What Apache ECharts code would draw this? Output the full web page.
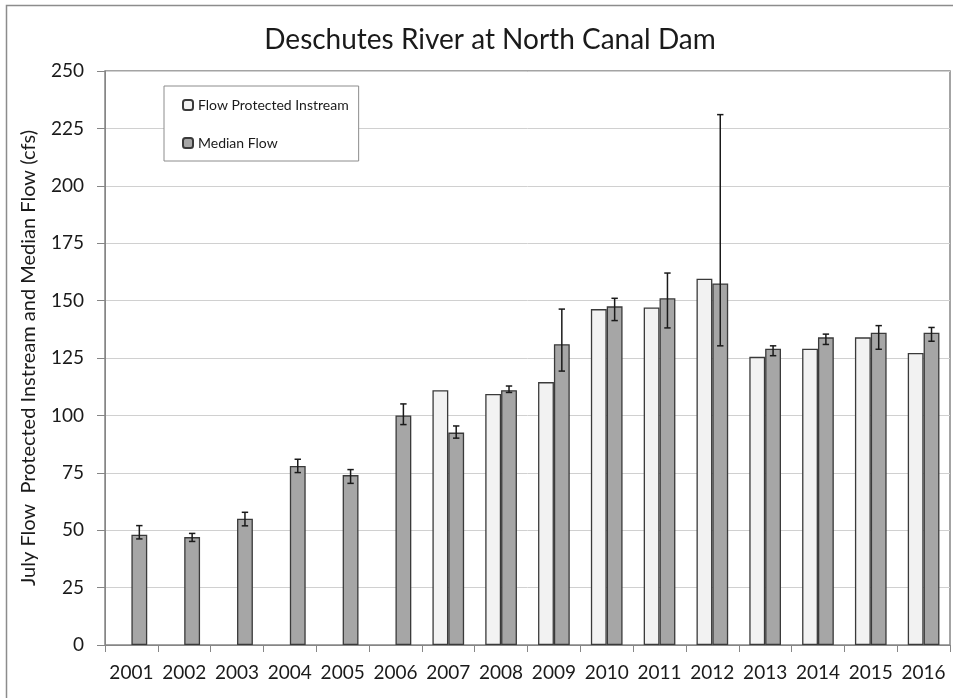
<!DOCTYPE html>
<html><head><meta charset="utf-8">
<script src="https://cdn.jsdelivr.net/npm/echarts@6/dist/echarts.min.js"></script>
<style>html,body{margin:0;padding:0;background:#fff}#c{width:953px;height:698px}</style>
</head><body><div id="c"></div>
<script>
const years = ['2001','2002','2003','2004','2005','2006','2007','2008','2009','2010','2011','2012','2013','2014','2015','2016'];
const protectedFlow = [null,null,null,null,null,null,111,109.3,114.5,146.3,147,159.5,125.5,129,134,127.2];
const medianFlow = [48,47,55,78,74,100,92.5,111,131,147.5,151,157.5,129,134,136,136];
const errLow = [46.2,45.1,51.9,75.1,70.4,96,90.1,110,119.3,141.3,138.1,130.3,126,130.9,128.8,132.3];
const errHigh = [52,48.6,57.8,80.9,76.4,105,95.4,112.8,146.3,151,162,231,130.3,135.4,139.1,138.3];
const yTicks = [0,25,50,75,100,125,150,175,200,225,250];

const FONT = 'Lato';
const chart = echarts.init(document.getElementById('c'));
const errData = years.map((y,i)=>[i, errLow[i], errHigh[i]]);
chart.setOption({
  animation:false,
  textStyle:{fontFamily:FONT},
  title:{text:'Deschutes River at North Canal Dam',left:485,textAlign:'center',top:21,
    textStyle:{fontFamily:FONT,fontSize:28,fontWeight:'normal',color:'#1a1a1a'}},
  graphic:[{type:'rect',shape:{x:6.5,y:5.5,width:960,height:720},style:{fill:null,stroke:'#8c8c8c',lineWidth:1.5},silent:true,z:-1}],
  legend:{orient:'vertical',left:164,top:86,itemWidth:10,itemHeight:10,itemGap:24,
    padding:[12,10,11,18],borderColor:'#8c8c8c',borderWidth:1,backgroundColor:'#fff',
    textStyle:{fontFamily:FONT,fontSize:14,color:'#1a1a1a'},
    data:['Flow Protected Instream','Median Flow']},
  grid:{left:105,right:3,top:71,bottom:53,show:true,borderColor:'#868686',borderWidth:1.5},
  xAxis:{type:'category',data:years,
    axisLine:{lineStyle:{color:'#868686',width:1}},
    axisTick:{show:true,length:7,lineStyle:{color:'#868686'}},
    axisLabel:{fontFamily:FONT,fontSize:19,color:'#1a1a1a',margin:18,interval:0,hideOverlap:false}},
  yAxis:{type:'value',min:0,max:250,interval:25,
    name:'July Flow  Protected Instream and Median Flow (cfs)',nameLocation:'middle',nameGap:66,
    nameTextStyle:{fontFamily:FONT,fontSize:20,color:'#1a1a1a'},
    axisLine:{show:true,lineStyle:{color:'#868686'}},
    axisTick:{show:true,length:8,lineStyle:{color:'#868686'}},
    axisLabel:{fontFamily:FONT,fontSize:19,color:'#1a1a1a',margin:21,
      formatter:v=>yTicks.indexOf(v)>=0?String(v):''},
    splitLine:{lineStyle:{color:'#d0d0d0',width:1}}},
  series:[
    {name:'Flow Protected Instream',type:'bar',data:protectedFlow,barGap:'0%',barCategoryGap:'40%',
      itemStyle:{color:'#f2f2f2',borderColor:'#3a3a3a',borderWidth:1.3}},
    {name:'Median Flow',type:'bar',data:medianFlow,barGap:'0%',barCategoryGap:'40%',
      itemStyle:{color:'#a6a6a6',borderColor:'#3a3a3a',borderWidth:1.3}},
    {name:'err',type:'custom',data:errData,encode:{x:0,y:[1,2]},z:10,
      renderItem:function(params,api){
        const i=api.value(0);
        const lo=api.coord([i,api.value(1)]);
        const hi=api.coord([i,api.value(2)]);
        const off=api.size([1,0])[0]*0.15;
        const x=lo[0]+off;
        const cw=3.2;
        const st={stroke:'#1a1a1a',lineWidth:1.5};
        return {type:'group',children:[
          {type:'line',shape:{x1:x,y1:lo[1],x2:x,y2:hi[1]},style:st},
          {type:'line',shape:{x1:x-cw,y1:lo[1],x2:x+cw,y2:lo[1]},style:st},
          {type:'line',shape:{x1:x-cw,y1:hi[1],x2:x+cw,y2:hi[1]},style:st}
        ]};
      }}
  ]
});
</script></body></html>
